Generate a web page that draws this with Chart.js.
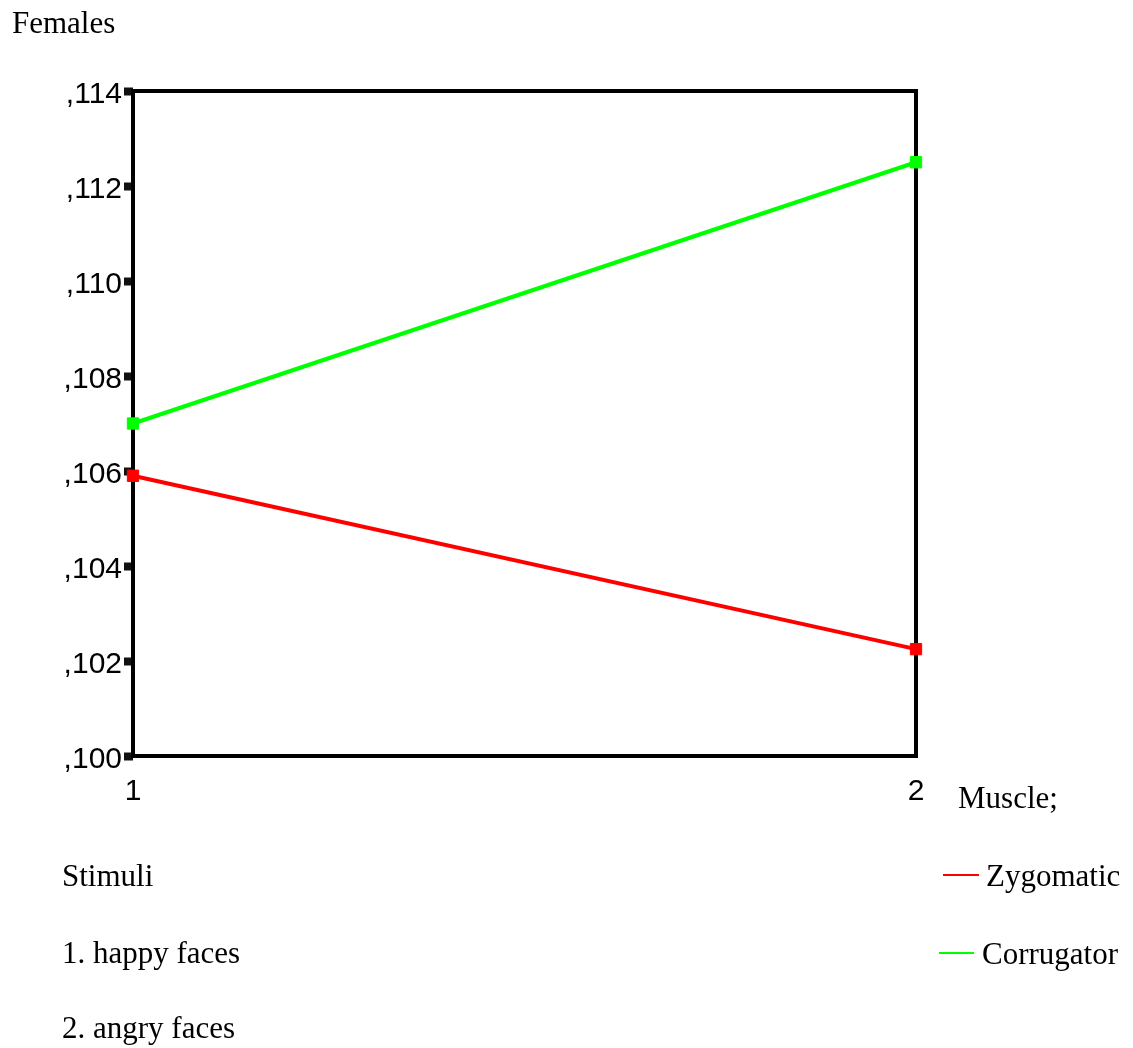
<!DOCTYPE html>
<html>
<head>
<meta charset="utf-8">
<script src="https://cdn.jsdelivr.net/npm/chart.js@4/dist/chart.umd.min.js"></script>
<style>
html,body{margin:0;padding:0;background:#fff;}
canvas{display:block;}
</style>
</head>
<body>
<canvas id="c" width="1133" height="1048"></canvas>
<script>
const stimuli = [1, 2];
const seriesNames = ["Zygomatic", "Corrugator"];
const zygomatic = [0.1059, 0.10225];
const corrugator = [0.1070, 0.1125];
const yTicks = [0.100, 0.102, 0.104, 0.106, 0.108, 0.110, 0.112, 0.114];
const title = "Females";
const legendTitle = "Muscle;";
const notes = ["Stimuli", "1. happy faces", "2. angry faces"];
const colors = ["#ff0000", "#00ff00"];

const serif = "'Liberation Serif','Times New Roman',serif";
const sans = "'Liberation Sans',Arial,sans-serif";

const framePlugin = {
  id: 'frame',
  beforeDatasetsDraw(chart) {
    const {ctx, chartArea: a} = chart;
    ctx.save();
    ctx.strokeStyle = '#000';
    ctx.lineWidth = 4;
    ctx.strokeRect(a.left, a.top, a.right - a.left, a.bottom - a.top);
    ctx.restore();
  },
  afterDraw(chart) {
    const {ctx} = chart;
    ctx.save();
    ctx.fillStyle = '#000';
    ctx.font = "31px " + serif;
    ctx.textBaseline = 'alphabetic';
    ctx.textAlign = 'left';
    ctx.fillText(title, 12, 33);
    ctx.fillText(legendTitle, 958, 808);
    ctx.fillText(notes[0], 62, 886);
    ctx.fillText(notes[1], 62, 963);
    ctx.fillText(notes[2], 62, 1038);
    const ds = chart.data.datasets;
    const rows = [{y: 875, x0: 943, x1: 979, tx: 986}, {y: 953, x0: 939, x1: 974, tx: 982}];
    ds.forEach((d, i) => {
      const r = rows[i];
      ctx.strokeStyle = d.borderColor;
      ctx.lineWidth = 2;
      ctx.beginPath();
      ctx.moveTo(r.x0, r.y);
      ctx.lineTo(r.x1, r.y);
      ctx.stroke();
      ctx.fillStyle = '#000';
      ctx.fillText(d.label, r.tx, r.y + 11);
    });
    ctx.restore();
  }
};

new Chart(document.getElementById('c'), {
  type: 'line',
  data: {
    datasets: [
      {label: seriesNames[0], data: stimuli.map((s, i) => ({x: s, y: zygomatic[i]})),
       borderColor: colors[0], backgroundColor: colors[0], borderWidth: 4,
       pointStyle: 'rect', pointRadius: 8, pointBorderWidth: 1, clip: false, tension: 0},
      {label: seriesNames[1], data: stimuli.map((s, i) => ({x: s, y: corrugator[i]})),
       borderColor: colors[1], backgroundColor: colors[1], borderWidth: 4,
       pointStyle: 'rect', pointRadius: 8, pointBorderWidth: 1, clip: false, tension: 0}
    ]
  },
  options: {
    responsive: false,
    animation: false,
    events: [],
    layout: {padding: {left: 0, right: 217, top: 91, bottom: 242}},
    plugins: {legend: {display: false}, tooltip: {enabled: false}},
    scales: {
      x: {
        type: 'linear', min: 1, max: 2,
        afterBuildTicks: (s) => { s.ticks = stimuli.map(v => ({value: v})); },
        afterFit: (s) => { s.height = 50; },
        grid: {display: false},
        border: {display: false},
        ticks: {color: '#000', font: {family: sans, size: 30}, padding: 10,
                callback: (v) => String(v), maxRotation: 0}
      },
      y: {
        type: 'linear', min: yTicks[0], max: yTicks[yTicks.length - 1],
        afterBuildTicks: (s) => { s.ticks = yTicks.map(v => ({value: v})); },
        afterFit: (s) => { s.width = 133; },
        grid: {display: true, drawOnChartArea: false, drawTicks: true,
               tickLength: 9, tickWidth: 8, tickColor: '#111'},
        border: {display: false},
        ticks: {color: '#000', font: {family: sans, size: 30}, padding: 2, labelOffset: 4,
                callback: (v) => ',' + Math.round(v * 1000)}
      }
    }
  },
  plugins: [framePlugin]
});
</script>
</body>
</html>
